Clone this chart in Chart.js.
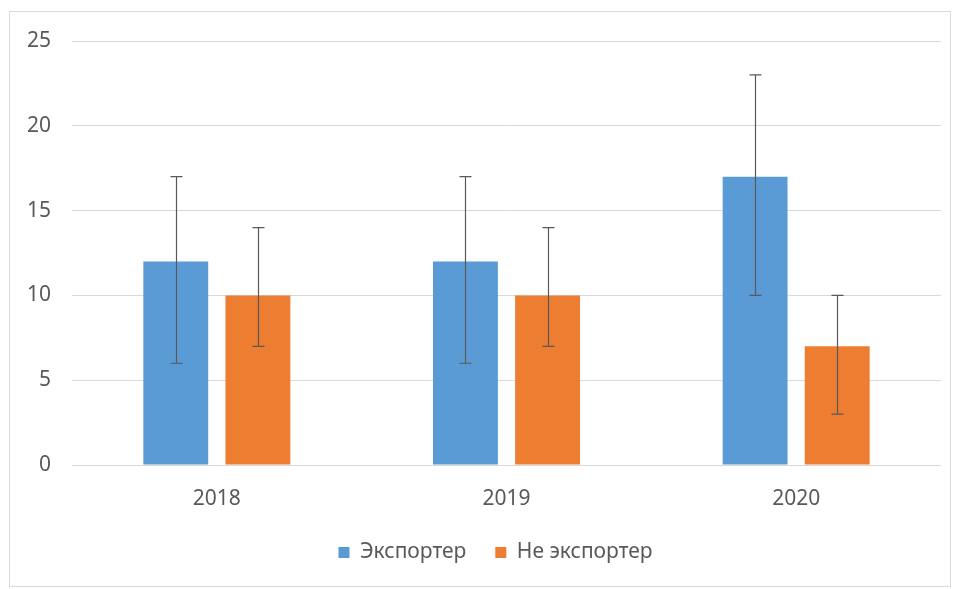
<!DOCTYPE html>
<html>
<head>
<meta charset="utf-8">
<script src="https://cdn.jsdelivr.net/npm/chart.js@4"></script>
<style>
  html, body { margin: 0; padding: 0; background: #fff; }
  #wrap { width: 960px; height: 589px; }
</style>
</head>
<body>
<div id="wrap"><canvas id="barChart" width="960" height="589"></canvas></div>
<script>
const years = ['2018', '2019', '2020'];
const exporter = [12, 12, 17];
const exporterHigh = [17, 17, 23];
const exporterLow = [6, 6, 10];
const nonExporter = [10, 10, 7];
const nonExporterHigh = [14, 14, 10];
const nonExporterLow = [7, 7, 3];
const yTicks = [0, 5, 10, 15, 20, 25];

const highs = [exporterHigh, nonExporterHigh];
const lows = [exporterLow, nonExporterLow];

// рамка вокруг диаграммы
const frame = {
  id: 'frame',
  beforeDraw(chart) {
    const c = chart.ctx;
    c.save();
    c.fillStyle = '#fff';
    c.fillRect(0, 0, chart.width, chart.height);
    c.strokeStyle = '#d9d9d9';
    c.lineWidth = 1;
    c.strokeRect(9.5, 11.5, 941, 575);
    c.restore();
  }
};

// легенду чуть правее, как в оригинале
const legendShift = {
  id: 'legendShift',
  afterLayout(chart) {
    chart.legend.left += 50;
  }
};

// планки погрешностей
const errorBars = {
  id: 'errorBars',
  afterDatasetsDraw(chart) {
    const c = chart.ctx;
    const y = chart.scales.y;
    c.save();
    c.strokeStyle = '#595959';
    c.lineWidth = 1.2;
    chart.data.datasets.forEach((ds, di) => {
      const meta = chart.getDatasetMeta(di);
      meta.data.forEach((bar, i) => {
        const x = Math.round(bar.x) + 0.5;
        const top = y.getPixelForValue(highs[di][i]);
        const bot = y.getPixelForValue(lows[di][i]);
        c.beginPath();
        c.moveTo(x, top); c.lineTo(x, bot);
        c.moveTo(x - 6, top); c.lineTo(x + 6, top);
        c.moveTo(x - 6, bot); c.lineTo(x + 6, bot);
        c.stroke();
      });
    });
    c.restore();
  }
};

const ctx1 = document.getElementById('barChart');

new Chart(ctx1, {
  type: 'bar',
  data: {
    labels: years,
    datasets: [{
      label: 'Экспортер',
      data: exporter,
      backgroundColor: '#5b9bd5',
      categoryPercentage: 0.567,
      barPercentage: 0.79
    }, {
      label: 'Не экспортер',
      data: nonExporter,
      backgroundColor: '#ed7d31',
      categoryPercentage: 0.567,
      barPercentage: 0.79
    }]
  },
  options: {
    responsive: false,
    animation: false,
    layout: { padding: { left: 0, right: 19, top: 41, bottom: 16 } },
    font: { family: 'Noto Sans' },
    plugins: {
      tooltip: { enabled: false },
      legend: {
        position: 'bottom',
        labels: {
          color: '#595959',
          boxWidth: 11,
          boxHeight: 11,
          padding: 29,
          font: { family: 'Noto Sans', size: 21 }
        }
      }
    },
    scales: {
      x: {
        grid: { display: false },
        border: { display: false },
        ticks: { color: '#595959', padding: 13, font: { family: 'Noto Sans', size: 21 } },
        afterFit(scale) { scale.height = 48; }
      },
      y: {
        min: 0,
        max: 25,
        afterBuildTicks(scale) { scale.ticks = yTicks.map(v => ({ value: v })); },
        grid: { color: '#d9d9d9', drawTicks: false },
        border: { display: false },
        ticks: { color: '#595959', padding: 21, font: { family: 'Noto Sans', size: 21 } },
        afterFit(scale) { scale.width = 72; }
      }
    }
  },
  plugins: [frame, legendShift, errorBars]
});
</script>
</body>
</html>
